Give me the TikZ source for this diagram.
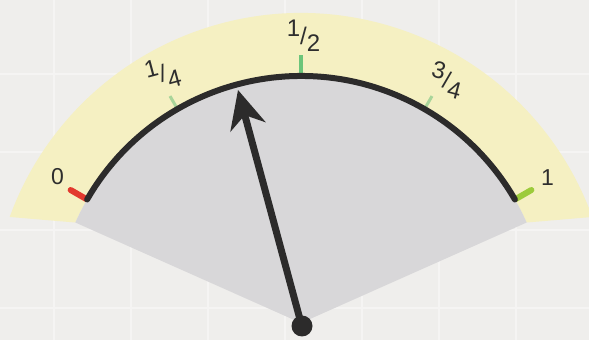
\documentclass[tikz,border=0pt]{standalone}
\usepackage{fontspec}
\setmainfont{Liberation Sans}
\usetikzlibrary{arrows.meta,calc}
\definecolor{bgc}{HTML}{EFEEEC}
\definecolor{gridc}{HTML}{F5F4F3}
\definecolor{yel}{HTML}{F5F0C2}
\definecolor{gry}{HTML}{D8D7D9}
\definecolor{ink}{HTML}{2C2B2B}
\definecolor{txt}{HTML}{2E2E2E}
\definecolor{tred}{HTML}{E2392E}
\definecolor{tgreen}{HTML}{6CC57A}
\definecolor{tfaint}{HTML}{A9D59A}
\definecolor{tlime}{HTML}{9CCB3B}
\newcommand{\gfrac}[2]{\raisebox{7.5pt}{#1}{\fontsize{24}{24}\selectfont/}\raisebox{-7.5pt}{#2}}
\tikzset{
  lbl/.style={text=txt, font=\fontsize{23}{23}\selectfont, inner sep=0pt},
  flbl/.style={text=txt, font=\fontsize{24}{24}\selectfont, inner sep=0pt},
  tickmark/.style={line width=6pt, line cap=round},
  gridline/.style={gridc, line width=2.5pt},
}
\begin{document}
\begin{tikzpicture}[x=1pt,y=1pt]
\useasboundingbox (0,0) rectangle (589,340);
\fill[bgc] (0,0) rectangle (589,340);
% faint paper grid
\foreach \gx in {54,131,208,285,362,439,516} \draw[gridline] (\gx,0) -- (\gx,340);
\foreach \gy in {32,110,188,266} \draw[gridline] (0,\gy) -- (589,\gy);
\coordinate (c) at (301,17);
% yellow band
\fill[yel] ($(c)+(20:310)$) arc[start angle=20,end angle=160,radius=310]
  -- ($(c)+(156:247)$) arc[start angle=156,end angle=24,radius=247] -- cycle;
% grey sector
\fill[gry] (c) -- ($(c)+(24:247)$) arc[start angle=24,end angle=156,radius=247] -- cycle;
% ticks
\draw[tickmark, tred] ($(c)+(150:248)$) -- ($(c)+(150:266)$);
\draw[tickmark, tlime] ($(c)+(30:248)$) -- ($(c)+(30:266)$);
\draw[tgreen, line width=4pt] ($(c)+(90:250)$) -- ($(c)+(90:268)$);
\draw[tfaint, line width=3pt] ($(c)+(120:250)$) -- ($(c)+(120:262)$);
\draw[tfaint, line width=3pt] ($(c)+(60:250)$) -- ($(c)+(60:262)$);
% dial arc
\draw[ink, line width=6pt, line cap=round] ($(c)+(150:247)$) arc[start angle=150,end angle=30,radius=247];
% labels
\node[lbl] (l0) at ($(c)+(149:284)$) {0};
\node[lbl] (l1) at ($(c)+(30.5:286)$) {1};
\node[flbl] (lh) at ($(c)+(89.5:287)$) {\gfrac{1}{2}};
\node[flbl, rotate=15] (lq) at ($(c)+(119:285)$) {\gfrac{1}{4}};
\node[flbl, rotate=-15] (l3) at ($(c)+(59:283)$) {\gfrac{3}{4}};
% needle
\coordinate (tip) at (238,250);
\draw[ink, line width=7pt, -{Stealth[length=38pt,width=36pt,inset=12pt]}] (c) -- (tip);
\fill[ink] (302,14) circle[radius=10.5];
\end{tikzpicture}
\end{document}
